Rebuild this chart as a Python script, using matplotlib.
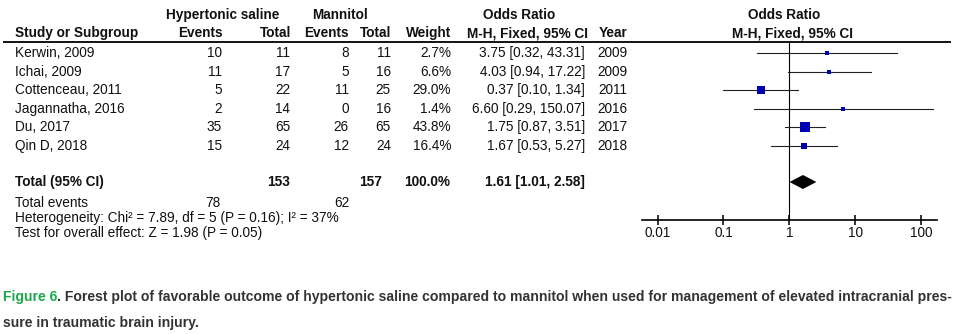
import numpy as np
import matplotlib
matplotlib.use("Agg")
import matplotlib.pyplot as plt

plt.rcParams['font.family'] = ['Liberation Sans', 'DejaVu Sans']

# data
studies = ["Kerwin, 2009", "Ichai, 2009", "Cottenceau, 2011", "Jagannatha, 2016", "Du, 2017", "Qin D, 2018"]
hs_events = [10, 11, 5, 2, 35, 15]
hs_total = [11, 17, 22, 14, 65, 24]
man_events = [8, 5, 11, 0, 26, 12]
man_total = [11, 16, 25, 16, 65, 24]
weights = [2.7, 6.6, 29.0, 1.4, 43.8, 16.4]
odds = [3.75, 4.03, 0.37, 6.60, 1.75, 1.67]
ci_low = [0.32, 0.94, 0.10, 0.29, 0.87, 0.53]
ci_high = [43.31, 17.22, 1.34, 150.07, 3.51, 5.27]
years = [2009, 2009, 2011, 2016, 2017, 2018]

total_hs, total_man = 153, 157
events_hs, events_man = 78, 62
total_weight = 100.0
pooled = [1.61, 1.01, 2.58]
heterogeneity = "Heterogeneity: Chi² = 7.89, df = 5 (P = 0.16); I² = 37%"
overall = "Test for overall effect: Z = 1.98 (P = 0.05)"
axis_ticks = [0.01, 0.1, 1, 10, 100]
axis_labels = ["0.01", "0.1", "1", "10", "100"]

W, H = 964, 334
fig = plt.figure(figsize=(W / 100, H / 100), dpi=100)
ax = fig.add_axes([0, 0, 1, 1])
ax.set_xlim(0, W)
ax.set_ylim(H, 0)
ax.axis('off')

fs = 9.8
txt = '#111111'
row_y = [53 + 18.6 * i for i in range(len(studies))]

# headers
ax.text(223, 15, "Hypertonic saline", ha='center', va='center', fontsize=fs, fontweight='bold', color=txt)
ax.text(340, 15, "Mannitol", ha='center', va='center', fontsize=fs, fontweight='bold', color=txt)
ax.text(519, 15, "Odds Ratio", ha='center', va='center', fontsize=fs, fontweight='bold', color=txt)
ax.text(784, 15, "Odds Ratio", ha='center', va='center', fontsize=fs, fontweight='bold', color=txt)
ax.text(15, 33, "Study or Subgroup", ha='left', va='center', fontsize=fs, fontweight='bold', color=txt)
for xr, lab in [(223, "Events"), (291, "Total"), (349, "Events"), (391, "Total"), (451, "Weight"), (627, "Year")]:
    ax.text(xr, 33, lab, ha='right', va='center', fontsize=fs, fontweight='bold', color=txt)
ax.text(467, 33, "M-H, Fixed, 95% CI", ha='left', va='center', fontsize=fs, fontweight='bold', color=txt)
ax.text(792, 33, "M-H, Fixed, 95% CI", ha='center', va='center', fontsize=fs, fontweight='bold', color=txt)
ax.hlines(42, 3, 951, color='black', lw=1.3)

# study rows
for i, y in enumerate(row_y):
    ax.text(15, y, studies[i], ha='left', va='center', fontsize=fs, color=txt)
    ax.text(222, y, str(hs_events[i]), ha='right', va='center', fontsize=fs, color=txt)
    ax.text(290, y, str(hs_total[i]), ha='right', va='center', fontsize=fs, color=txt)
    ax.text(349, y, str(man_events[i]), ha='right', va='center', fontsize=fs, color=txt)
    ax.text(391, y, str(man_total[i]), ha='right', va='center', fontsize=fs, color=txt)
    ax.text(451, y, f"{weights[i]:.1f}%", ha='right', va='center', fontsize=fs, color=txt)
    ax.text(585, y, f"{odds[i]:.2f} [{ci_low[i]:.2f}, {ci_high[i]:.2f}]", ha='right', va='center', fontsize=fs, color=txt)
    ax.text(627, y, str(years[i]), ha='right', va='center', fontsize=fs, color=txt)

# totals
ty = 182
ax.text(15, ty, "Total (95% CI)", ha='left', va='center', fontsize=fs, fontweight='bold', color=txt)
ax.text(290, ty, str(total_hs), ha='right', va='center', fontsize=fs, fontweight='bold', color=txt)
ax.text(382, ty, str(total_man), ha='right', va='center', fontsize=fs, fontweight='bold', color=txt)
ax.text(450, ty, f"{total_weight:.1f}%", ha='right', va='center', fontsize=fs, fontweight='bold', color=txt)
ax.text(585, ty, f"{pooled[0]:.2f} [{pooled[1]:.2f}, {pooled[2]:.2f}]", ha='right', va='center', fontsize=fs, fontweight='bold', color=txt)
ax.text(15, 203, "Total events", ha='left', va='center', fontsize=fs, color=txt)
ax.text(220, 203, str(events_hs), ha='right', va='center', fontsize=fs, color=txt)
ax.text(349, 203, str(events_man), ha='right', va='center', fontsize=fs, color=txt)
ax.text(15, 218, heterogeneity, ha='left', va='center', fontsize=fs, color=txt)
ax.text(15, 233, overall, ha='left', va='center', fontsize=fs, color=txt)

# forest plot axes (log scale)
fx0, fx1, fy0, fy1 = 642, 937, 42, 220
fax = fig.add_axes([fx0 / W, 1 - fy1 / H, (fx1 - fx0) / W, (fy1 - fy0) / H])
fax.set_xscale('log')
fax.set_xlim(0.0058, 175)
fax.set_ylim(fy1, fy0)
fax.patch.set_alpha(0)
for s in ['top', 'left', 'right']:
    fax.spines[s].set_visible(False)
fax.spines['bottom'].set_linewidth(1.2)
fax.set_yticks([])
fax.set_xticks(axis_ticks)
fax.set_xticklabels(axis_labels)
fax.minorticks_off()
fax.tick_params(axis='x', direction='inout', length=7, width=1.2, labelsize=fs, pad=1, colors=txt)
fax.axvline(1, color='black', lw=0.8)

for i, y in enumerate(row_y):
    fax.plot([ci_low[i], ci_high[i]], [y, y], color='#222222', lw=0.8)
    side_px = 2.8 + 7.6 * weights[i] / max(weights)
    fax.scatter([odds[i]], [y], marker='s', s=(side_px * 0.72) ** 2, color='#0000b4', linewidths=0, zorder=3)

fax.fill([pooled[1], pooled[0], pooled[2], pooled[0]], [ty, ty - 7, ty, ty + 7], color='black', lw=0)

# caption
cap_fs = 10.1
t1 = ax.text(3, 297, "Figure 6", ha='left', va='center', fontsize=cap_fs, fontweight='bold', color='#1aa84b')
ax.annotate(". Forest plot of favorable outcome of hypertonic saline compared to mannitol when used for management of elevated intracranial pres-",
            xy=(1, 0.5), xycoords=t1, ha='left', va='center', fontsize=cap_fs, fontweight='bold', color='#333333')
ax.text(3, 323, "sure in traumatic brain injury.", ha='left', va='center', fontsize=cap_fs, fontweight='bold', color='#333333')

fig.savefig("out.png", dpi=100)
